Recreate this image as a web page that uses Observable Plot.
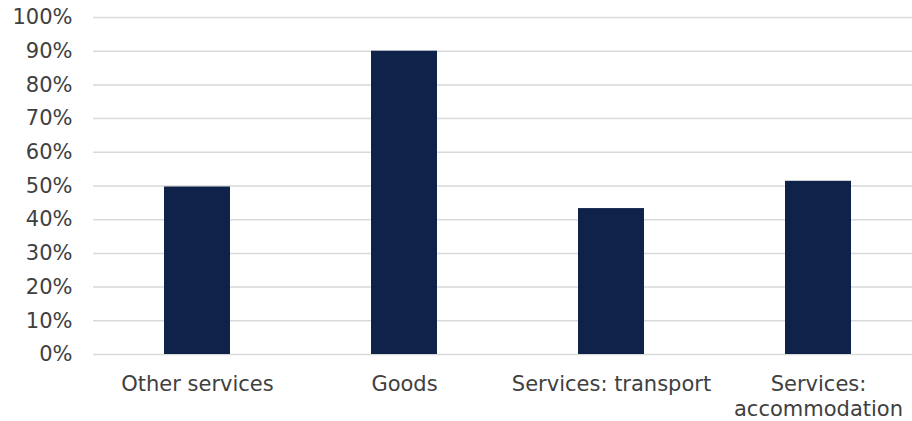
<!DOCTYPE html>
<html>
<head>
<meta charset="utf-8">
<script src="https://cdn.jsdelivr.net/npm/d3@7"></script>
<script src="https://cdn.jsdelivr.net/npm/@observablehq/plot@0.6"></script>
<style>
  html, body { margin: 0; padding: 0; background: #ffffff; }
  #chart svg { display: block; }
</style>
</head>
<body>
<div id="chart"></div>
<script>
const categories = ["Other services", "Goods", "Services: transport", "Services: accommodation"];
const tickLabels = ["Other services", "Goods", "Services: transport", "Services:\naccommodation"];
const values = [0.497, 0.90, 0.433, 0.514];
const yTicks = [0, 0.1, 0.2, 0.3, 0.4, 0.5, 0.6, 0.7, 0.8, 0.9, 1.0];

const data = categories.map((c, i) => ({category: c, value: values[i]}));

const chart = Plot.plot({
  width: 912,
  height: 421,
  marginTop: 17,
  marginBottom: 67,
  marginLeft: 93,
  marginRight: 0,
  style: {fontFamily: "Verdana, 'DejaVu Sans', sans-serif", fontSize: "21px", color: "#404040", background: "#ffffff"},
  x: {domain: categories, range: [93, 923], paddingInner: 0.68, paddingOuter: 0.34, label: null},
  y: {domain: [0, 1], label: null},
  marks: [
    Plot.ruleY(yTicks, {stroke: "#d9d9d9", strokeWidth: 1.5}),
    Plot.barY(data, {x: "category", y: "value", fill: "#0f2249"}),
    Plot.axisY(yTicks, {tickSize: 0, tickPadding: 21, tickFormat: d => `${Math.round(d * 100)}%`, fontSize: 21, fill: "#404040", label: null}),
    Plot.axisX({tickSize: 0, tickPadding: 19, tickFormat: d => tickLabels[categories.indexOf(d)], fontSize: 21, fill: "#404040", lineHeight: 1.17, label: null})
  ]
});
document.getElementById("chart").appendChild(chart);
</script>
</body>
</html>
